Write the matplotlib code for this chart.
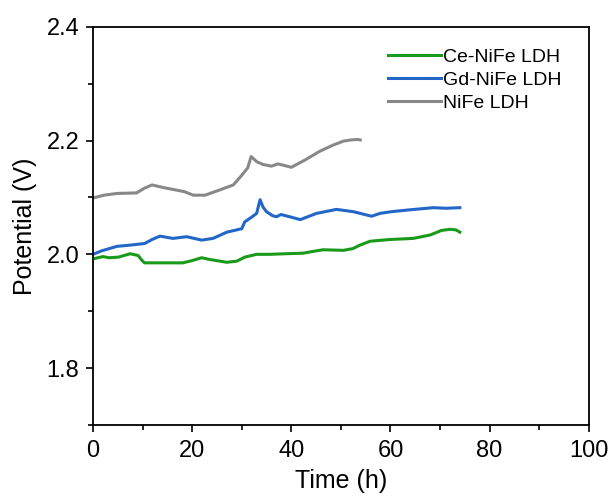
import matplotlib
matplotlib.use("Agg")
import matplotlib.pyplot as plt
from matplotlib.ticker import MultipleLocator, FormatStrFormatter

plt.rcParams['font.family'] = ['Liberation Sans', 'DejaVu Sans']

# Ce-NiFe LDH
t_ce = [0.0, 1.0, 2.0, 3.2, 5.1, 6.3, 7.5, 9.1, 9.8, 10.4, 12.4, 15.4, 18.1, 20.0,
        21.9, 23.5, 27.0, 29.0, 30.6, 33.0, 35.7, 38.7, 42.4, 44.3, 46.4, 50.5,
        52.4, 53.8, 55.9, 59.8, 64.6, 68.0, 70.3, 72.0, 73.2, 74.0]
v_ce = [1.992, 1.994, 1.996, 1.994, 1.995, 1.998, 2.001, 1.998, 1.990, 1.985, 1.985,
        1.985, 1.985, 1.989, 1.994, 1.991, 1.986, 1.988, 1.995, 2.000, 2.000, 2.001,
        2.002, 2.005, 2.008, 2.007, 2.010, 2.016, 2.023, 2.026, 2.028, 2.034, 2.042,
        2.044, 2.043, 2.039]

# Gd-NiFe LDH
t_gd = [0.0, 1.7, 4.8, 7.3, 10.4, 11.9, 13.5, 16.1, 18.9, 21.9, 24.2, 27.0, 30.0,
        30.6, 32.1, 33.0, 33.7, 34.3, 35.0, 36.2, 37.0, 37.9, 39.7, 41.8, 45.1,
        49.1, 52.5, 56.2, 57.9, 60.2, 63.6, 68.6, 71.2, 74.0]
v_gd = [2.000, 2.006, 2.014, 2.016, 2.019, 2.026, 2.032, 2.028, 2.031, 2.025, 2.028,
        2.039, 2.045, 2.057, 2.066, 2.072, 2.096, 2.083, 2.075, 2.068, 2.066, 2.070,
        2.066, 2.061, 2.072, 2.079, 2.075, 2.067, 2.072, 2.075, 2.078, 2.082, 2.081,
        2.082]

# NiFe LDH
t_ni = [0.0, 2.2, 4.8, 8.8, 10.3, 11.9, 14.4, 16.8, 18.5, 20.2, 22.6, 25.5, 28.3,
        30.1, 31.2, 31.9, 33.0, 34.3, 36.0, 37.3, 38.7, 40.0, 42.8, 45.7, 48.4,
        50.5, 51.9, 53.4, 53.9]
v_ni = [2.099, 2.104, 2.107, 2.108, 2.116, 2.122, 2.117, 2.113, 2.110, 2.104, 2.104,
        2.113, 2.122, 2.140, 2.152, 2.172, 2.163, 2.158, 2.155, 2.159, 2.156, 2.153,
        2.166, 2.181, 2.192, 2.199, 2.201, 2.202, 2.201]

fig = plt.figure(figsize=(6.12, 4.97), dpi=100)
ax = fig.add_axes([0.152, 0.145, 0.810, 0.801])

ax.plot(t_ce, v_ce, color='#1a9a1a', lw=2.2, label='Ce-NiFe LDH')
ax.plot(t_gd, v_gd, color='#2266c8', lw=2.2, label='Gd-NiFe LDH')
ax.plot(t_ni, v_ni, color='#888888', lw=2.2, label='NiFe LDH')

ax.set_xlim(0, 100)
ax.set_ylim(1.7, 2.4)
ax.xaxis.set_major_locator(MultipleLocator(20))
ax.xaxis.set_minor_locator(MultipleLocator(10))
ax.yaxis.set_major_locator(MultipleLocator(0.2))
ax.yaxis.set_minor_locator(MultipleLocator(0.1))
ax.yaxis.set_major_formatter(FormatStrFormatter('%.1f'))
ax.tick_params(axis='both', which='major', direction='out', length=5, width=1.2,
               labelsize=17, top=False, right=False)
ax.tick_params(axis='x', which='major', pad=6)
ax.tick_params(axis='y', which='major', pad=5)
ax.tick_params(axis='both', which='minor', direction='out', length=3.5, width=1.2,
               top=False, right=False)
for s in ax.spines.values():
    s.set_linewidth(1.3)

ax.set_xlabel('Time (h)', fontsize=18, labelpad=5)
ax.set_ylabel('Potential (V)', fontsize=18, labelpad=7)

ax.legend(loc='upper right', frameon=False, fontsize=14, handlelength=2.7,
          handletextpad=0.1, labelspacing=0.28, borderaxespad=0,
          bbox_to_anchor=(0.96, 0.965))

fig.savefig('out.png', dpi=100)
